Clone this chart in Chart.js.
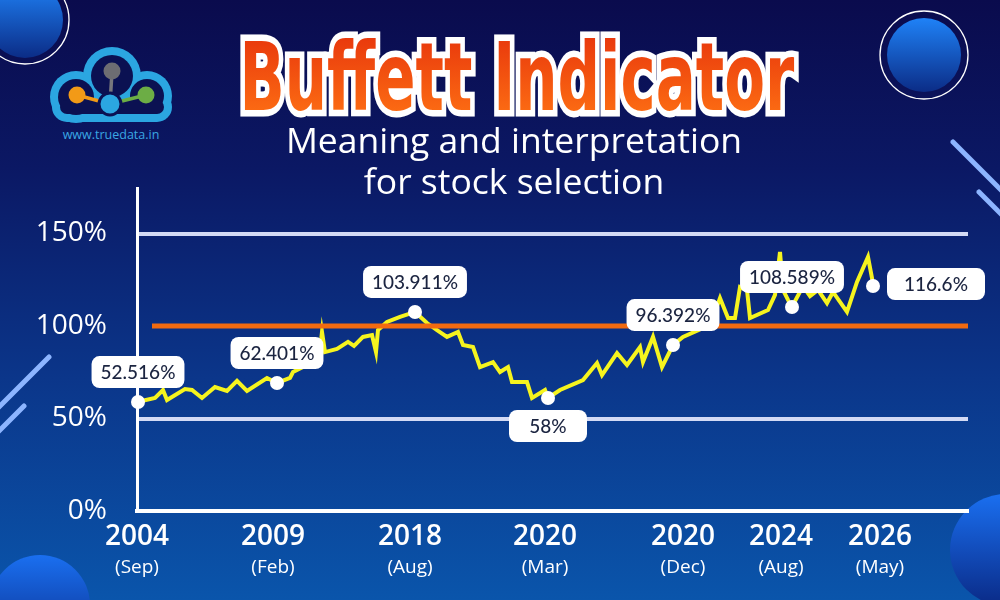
<!DOCTYPE html>
<html lang="en">
<head>
<meta charset="UTF-8">
<title>Buffett Indicator</title>
<style>
    * {
        margin: 0;
        padding: 0;
        box-sizing: border-box;
    }
    body {
        width: 1000px;
        height: 600px;
        overflow: hidden;
        background: #0a0d50;
        font-family: 'Open Sans', sans-serif;
    }
    .page {
        position: relative;
        width: 1000px;
        height: 600px;
        overflow: hidden;
        background: linear-gradient(180deg, #0a0b4d 0%, #0b1864 28%, #0b3589 62%, #0a55ab 100%);
    }
    #deco, #chart {
        position: absolute;
        left: 0;
        top: 0;
    }
    .title-inner {
        position: absolute;
        left: 517px;
        top: 30px;
        transform-origin: 0 0;
        white-space: nowrap;
        font: bold 95px/1 "Liberation Sans Narrow", "DejaVu Sans Condensed", "Liberation Sans", sans-serif;
    }
    .t-back {
        position: absolute;
        left: 0;
        top: 0;
        color: #fff;
        -webkit-text-stroke: 13px #fff;
    }
    .t-front {
        position: relative;
        background: linear-gradient(180deg, #e8360c 10%, #ff7414 95%);
        -webkit-background-clip: text;
        background-clip: text;
        color: transparent;
    }
    .subtitle {
        position: absolute;
        left: 264px;
        top: 119px;
        width: 500px;
        text-align: center;
        color: #fff;
        font-size: 35.5px;
        line-height: 41px;
    }
</style>
<script src="https://cdn.jsdelivr.net/npm/chart.js@4.4.1/dist/chart.umd.min.js"></script>
</head>
<body>
<div class="page">
    <svg id="deco" width="1000" height="600" viewBox="0 0 1000 600">
        <defs>
            <linearGradient id="ball" x1="0" y1="0" x2="0" y2="1">
                <stop offset="0" stop-color="#1f82f7"/>
                <stop offset="1" stop-color="#0b2c86"/>
            </linearGradient>
            <linearGradient id="ball2" x1="0" y1="0" x2="0" y2="1">
                <stop offset="0" stop-color="#1a6ff0"/>
                <stop offset="1" stop-color="#0a2a86"/>
            </linearGradient>
        </defs>
        <!-- corner balls -->
        <circle cx="25" cy="20" r="44" fill="none" stroke="#fff" stroke-width="1.3"/>
        <circle cx="25" cy="20" r="38" fill="url(#ball)"/>
        <circle cx="924" cy="55" r="44" fill="none" stroke="#fff" stroke-width="1.3"/>
        <circle cx="924" cy="55" r="37" fill="url(#ball)"/>
        <circle cx="1006" cy="550" r="56" fill="url(#ball2)"/>
        <circle cx="40" cy="605" r="50" fill="url(#ball2)"/>
        <!-- streaks -->
        <g stroke="#8db5ff" stroke-width="5" stroke-linecap="round">
            <line x1="49" y1="357" x2="-6" y2="412"/>
            <line x1="24" y1="406" x2="-6" y2="436"/>
            <line x1="953" y1="142" x2="1010" y2="199"/>
            <line x1="979" y1="192" x2="1010" y2="223"/>
        </g>
        <!-- logo -->
        <g fill="#2ba6e1">
            <circle cx="76" cy="97" r="26"/>
            <circle cx="112" cy="76" r="29"/>
            <circle cx="147" cy="96" r="25"/>
            <rect x="52" y="92" width="120" height="30" rx="15"/>
        </g>
        <g fill="#0b1152">
            <circle cx="76" cy="97" r="18"/>
            <circle cx="112" cy="76" r="21"/>
            <circle cx="147" cy="96" r="17"/>
            <rect x="60" y="100" width="104" height="14" rx="7"/>
        </g>
        <line x1="112" y1="72" x2="110" y2="104" stroke="#77777d" stroke-width="3.5"/>
        <line x1="77" y1="95" x2="110" y2="104" stroke="#f29a17" stroke-width="3.5"/>
        <line x1="110" y1="104" x2="146" y2="95" stroke="#6cad45" stroke-width="3.5"/>
        <circle cx="112" cy="71" r="8.5" fill="#6d6d72"/>
        <circle cx="77" cy="95" r="8.5" fill="#f29a17"/>
        <circle cx="146" cy="95" r="8.5" fill="#6cad45"/>
        <circle cx="110" cy="104" r="11" fill="#2ba6e1" stroke="#0b1152" stroke-width="3"/>
        <text x="111" y="139" text-anchor="middle" font-size="12.5" fill="#3aa7e3" font-family="Open Sans">www.truedata.in</text>
    </svg>

    <canvas id="chart" width="1000" height="600"></canvas>

    <div class="title-inner" id="title">
        <span class="t-back" aria-hidden="true">Buffett Indicator</span>
        <span class="t-front" id="titleText">Buffett Indicator</span>
    </div>
    <div class="subtitle">Meaning and interpretation<br>for stock selection</div>
</div>

<script>
    // axis ticks
    const xTickPos = [0, 13.6, 27.3, 40.8, 54.6, 64.4, 74.3];
    const yearLabels = ['2004', '2009', '2018', '2020', '2020', '2024', '2026'];
    const monthLabels = ['(Sep)', '(Feb)', '(Aug)', '(Mar)', '(Dec)', '(Aug)', '(May)'];
    const yTickValues = [0, 50, 100, 150];

    // yellow indicator line
    const lineX = [0, 1.8, 2.6, 3.0, 4.8, 5.5, 6.5, 7.8, 9.0, 10.0, 11.0, 13.0, 14.0, 15.3, 15.6, 16.8,
        18.2, 18.5, 18.8, 20.0, 21.1, 21.7, 22.6, 23.5, 23.9, 24.1, 25.0, 26.3, 27.8, 29.0, 30.0, 31.0,
        32.1, 32.6, 33.6, 34.3, 35.6, 36.3, 37.1, 37.5, 39.0, 39.5, 40.8, 41.1, 42.3, 44.6, 46.0, 46.5,
        48.0, 49.0, 50.3, 50.6, 51.6, 52.5, 53.6, 54.6, 56.6, 57.5, 58.3, 59.1, 59.8, 60.3, 61.0, 61.3,
        63.1, 63.8, 64.3, 64.6, 65.1, 65.5, 66.6, 67.3, 68.1, 69.0, 69.6, 71.0, 72.0, 73.1, 73.5, 73.6];
    const lineY = [58.9, 61.1, 65.4, 60.0, 65.9, 65.4, 61.1, 67.0, 64.9, 70.3, 64.9, 71.9, 69.2, 71.9, 75.1, 78.4,
        81.6, 96.8, 85.9, 87.6, 91.4, 89.2, 94.1, 95.1, 85.9, 97.8, 102.2, 104.9, 107.6, 101.6, 97.8, 94.1,
        96.8, 89.7, 88.6, 77.8, 80.5, 75.1, 77.8, 69.7, 69.7, 61.1, 65.4, 61.1, 65.4, 70.8, 80.0, 73.5,
        85.4, 78.9, 88.6, 80.5, 94.1, 77.8, 89.7, 94.1, 98.9, 103.2, 115.1, 104.3, 104.3, 121.1, 119.5, 104.3,
        108.6, 116.8, 140.0, 119.5, 114.1, 110.3, 121.6, 116.2, 119.5, 112.4, 118.4, 107.6, 123.8, 137.3, 125.9, 121.6];

    // highlighted points and their labels
    const markerX = [0.1, 14.0, 27.8, 41.1, 53.6, 65.5, 73.6];
    const markerY = [58.9, 69.2, 107.6, 61.1, 89.7, 110.3, 121.6];
    const markerText = ['52.516%', '62.401%', '103.911%', '58%', '96.392%', '108.589%', '116.6%'];
    const labelSide = ['above', 'above', 'above', 'below', 'above', 'above', 'right'];

    // 100% reference line
    const thresholdX = [1.5, 83.1];
    const thresholdY = [100, 100];

    // fit the title into its slot
    const titleEl = document.getElementById('title');
    const titleW = document.getElementById('titleText').offsetWidth;
    const sx = 555 / titleW;
    titleEl.style.transform = 'translateX(' + (-titleW * sx / 2) + 'px) scaleX(' + sx + ')';

    function roundBox(ctx, x, y, w, h, r) {
        ctx.beginPath();
        ctx.moveTo(x + r, y);
        ctx.arcTo(x + w, y, x + w, y + h, r);
        ctx.arcTo(x + w, y + h, x, y + h, r);
        ctx.arcTo(x, y + h, x, y, r);
        ctx.arcTo(x, y, x + w, y, r);
        ctx.closePath();
    }

    const labelPlugin = {
        id: 'pointLabels',
        afterDatasetsDraw(chart) {
            const ctx = chart.ctx;
            const xs = chart.scales.x, ys = chart.scales.y;
            ctx.save();
            ctx.font = '500 19px Lato';
            ctx.textAlign = 'center';
            ctx.textBaseline = 'middle';
            markerText.forEach((txt, i) => {
                const px = xs.getPixelForValue(markerX[i]);
                const py = ys.getPixelForValue(markerY[i]);
                let w = Math.max(78, ctx.measureText(txt).width + 18);
                const h = 32;
                let cx = px, cy = py - 30;
                if (labelSide[i] === 'below') cy = py + 28;
                if (labelSide[i] === 'right') {
                    w = Math.max(98, w);
                    cx = px + 14 + w / 2;
                    cy = py - 2;
                }
                roundBox(ctx, cx - w / 2, cy - h / 2, w, h, 8);
                ctx.fillStyle = '#ffffff';
                ctx.fill();
                ctx.fillStyle = '#1b2440';
                ctx.fillText(txt, cx, cy + 1);
            });
            ctx.restore();
        },
        afterDraw(chart) {
            // second line of the x labels, smaller
            const ctx = chart.ctx;
            const xs = chart.scales.x;
            ctx.save();
            ctx.font = '500 19px "Open Sans"';
            ctx.fillStyle = '#ffffff';
            ctx.textAlign = 'center';
            ctx.textBaseline = 'middle';
            xTickPos.forEach((v, i) => {
                ctx.fillText(monthLabels[i], xs.getPixelForValue(v), xs.top + 57);
            });
            ctx.restore();
        }
    };

    new Chart(document.getElementById('chart').getContext('2d'), {
        type: 'line',
        data: {
            datasets: [
                {
                    label: 'Marked points',
                    data: markerX.map((x, i) => ({ x: x, y: markerY[i] })),
                    showLine: false,
                    pointRadius: 7,
                    pointBackgroundColor: '#ffffff',
                    pointBorderWidth: 0,
                    order: 0,
                    clip: false
                },
                {
                    label: '100%',
                    data: thresholdX.map((x, i) => ({ x: x, y: thresholdY[i] })),
                    borderColor: '#f26a10',
                    borderWidth: 5,
                    pointRadius: 0,
                    order: 1,
                    clip: false
                },
                {
                    label: 'Buffett Indicator',
                    data: lineX.map((x, i) => ({ x: x, y: lineY[i] })),
                    borderColor: '#f6f41e',
                    borderWidth: 4,
                    pointRadius: 0,
                    tension: 0,
                    borderJoinStyle: 'miter',
                    order: 2,
                    clip: false
                }
            ]
        },
        options: {
            responsive: false,
            animation: false,
            layout: { padding: { top: 188, right: 32, left: 0, bottom: 0 } },
            plugins: {
                legend: { display: false },
                tooltip: { enabled: false }
            },
            scales: {
                x: {
                    type: 'linear',
                    min: 0,
                    max: 83.1,
                    afterBuildTicks: s => { s.ticks = xTickPos.map(v => ({ value: v })); },
                    afterFit: s => { s.height = 89; },
                    grid: { color: 'transparent', drawTicks: false },
                    border: { color: '#ffffff', width: 4 },
                    ticks: {
                        color: '#ffffff',
                        padding: 9,
                        autoSkip: false,
                        maxRotation: 0,
                        font: { family: 'Open Sans', size: 28, weight: '600' },
                        callback: (v, i) => yearLabels[i]
                    }
                },
                y: {
                    min: 0,
                    max: 174.6,
                    afterBuildTicks: s => { s.ticks = yTickValues.map(v => ({ value: v })); },
                    afterFit: s => { s.width = 137; },
                    grid: {
                        color: c => (c.tick && (c.tick.value === 50 || c.tick.value === 150)) ? '#d3daf5' : 'transparent',
                        lineWidth: 4,
                        drawTicks: false
                    },
                    border: { color: '#ffffff', width: 3 },
                    ticks: {
                        color: '#ffffff',
                        padding: 30,
                        font: { family: 'Open Sans', size: 28 },
                        callback: v => v + '%'
                    }
                }
            }
        },
        plugins: [labelPlugin]
    });
</script>
</body>
</html>
